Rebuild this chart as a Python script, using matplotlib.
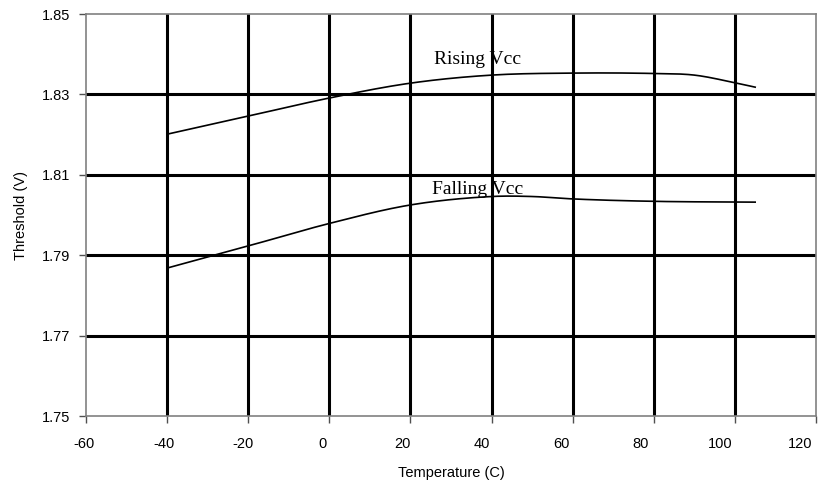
import matplotlib
matplotlib.use("Agg")
import matplotlib.pyplot as plt
import numpy as np

rising_t = [-40, -20, 0, 20, 40, 60, 80, 90, 100, 105]
rising_v = [1.8201, 1.8246, 1.8291, 1.8328, 1.8348, 1.8353, 1.8352, 1.8348, 1.8329, 1.8318]
falling_t = [-40, -20, 0, 20, 40, 50, 60, 80, 105]
falling_v = [1.7868, 1.7923, 1.7979, 1.8025, 1.8046, 1.8046, 1.8040, 1.8034, 1.8032]
xticks = [-60, -40, -20, 0, 20, 40, 60, 80, 100, 120]
yticks = [1.75, 1.77, 1.79, 1.81, 1.83, 1.85]

fig = plt.figure(figsize=(8.18, 4.86), dpi=100)
ax = fig.add_axes([86/818, 1-416/486, 730/818, 402/486])

def smooth(x, y, n=300):
    x = np.asarray(x, float); y = np.asarray(y, float)
    xs = np.linspace(x[0], x[-1], n)
    d = np.diff(y) / np.diff(x)
    m = np.zeros_like(y)
    m[0] = d[0]; m[-1] = d[-1]
    m[1:-1] = (d[:-1] + d[1:]) / 2
    ys = np.empty_like(xs)
    for i, xv in enumerate(xs):
        k = min(np.searchsorted(x, xv, side='right') - 1, len(x) - 2)
        h = x[k+1] - x[k]
        t = (xv - x[k]) / h
        h00 = 2*t**3 - 3*t**2 + 1; h10 = t**3 - 2*t**2 + t
        h01 = -2*t**3 + 3*t**2; h11 = t**3 - t**2
        ys[i] = h00*y[k] + h10*h*m[k] + h01*y[k+1] + h11*h*m[k+1]
    return xs, ys

for gx in xticks[1:-1]:
    ax.axvline(gx, color='black', lw=2.2, zorder=1)
for gy in yticks[1:-1]:
    ax.axhline(gy, color='black', lw=2.2, zorder=1)

xs, ys = smooth(rising_t, rising_v)
ax.plot(xs, ys, color='black', lw=1.2, zorder=3)
xs, ys = smooth(falling_t, falling_v)
ax.plot(xs, ys, color='black', lw=1.2, zorder=3)

ax.text(25.8, 1.8376, "Rising Vcc", family='Liberation Serif', fontsize=14,
        va='baseline', ha='left', zorder=4)
ax.text(25.4, 1.8052, "Falling Vcc", family='Liberation Serif', fontsize=14,
        va='baseline', ha='left', zorder=4)

ax.set_xlim(-60, 120)
ax.set_ylim(1.75, 1.85)
ax.set_xticks(xticks)
ax.set_yticks(yticks)
ax.set_xticklabels([])
ax.set_yticklabels([f"{v:.2f}" for v in yticks])
for s in ax.spines.values():
    s.set_color('#808080')
    s.set_linewidth(1.2)
ax.tick_params(axis='both', direction='out', length=5, width=1, color='#505050',
               labelsize=10.5)
ax.tick_params(axis='y', pad=6.5)
for lab in ax.get_yticklabels():
    lab.set_family('Liberation Sans')

# x tick labels, placed slightly compressed toward the left as in the reference
xt = ax.get_xaxis_transform()
for v in xticks:
    pos = -60 - 2/730*180 + (v + 60) * 0.981
    ax.text(pos, -0.052, str(v), transform=xt, ha='center', va='top',
            family='Liberation Sans', fontsize=10.5)

ax.set_xlabel("Temperature (C)", family='Liberation Sans', fontsize=10.5, va='baseline')
ax.xaxis.set_label_coords(0.5, (416-477)/402)
ax.set_ylabel("Threshold (V)", family='Liberation Sans', fontsize=10.5, va='center')
ax.yaxis.set_label_coords((21.5-86)/730, 0.5)

fig.savefig("out.png", dpi=100)
